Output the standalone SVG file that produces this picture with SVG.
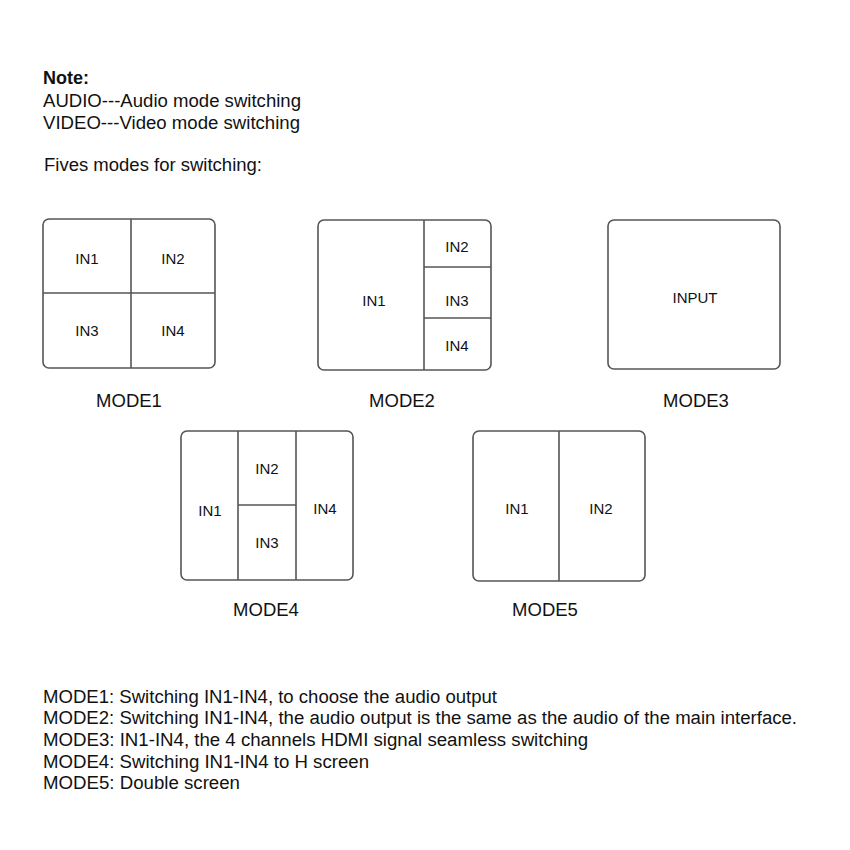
<svg xmlns="http://www.w3.org/2000/svg" width="850" height="850" viewBox="0 0 850 850">
<style>
text{font-family:"Liberation Sans",Arial,sans-serif;fill:#111;}
.t{font-size:18px;}
.b{font-weight:bold;}
.lbl{font-size:15px;text-anchor:middle;dominant-baseline:central;}
.mode{font-size:18.5px;text-anchor:middle;}
.box{fill:#fff;stroke:#555;stroke-width:1.6;}
.div{stroke:#555;stroke-width:1.6;fill:none;}
</style>
<rect width="850" height="850" fill="#fff"/>
<g id="notes">
<text class="t b" x="43" y="84">Note:</text>
<text class="t" x="43" y="107" textLength="258" lengthAdjust="spacingAndGlyphs">AUDIO---Audio mode switching</text>
<text class="t" x="43" y="129" textLength="257" lengthAdjust="spacingAndGlyphs">VIDEO---Video mode switching</text>
<text class="t" x="44" y="171" textLength="218" lengthAdjust="spacingAndGlyphs">Fives modes for switching:</text>
</g>
<g id="mode1">
<rect class="box" x="43" y="219" width="172" height="149" rx="6"/>
<path class="div" d="M131 219V368M43 293H215"/>
<text class="lbl" x="87" y="258">IN1</text>
<text class="lbl" x="173" y="258">IN2</text>
<text class="lbl" x="87" y="330">IN3</text>
<text class="lbl" x="173" y="330">IN4</text>
<text class="mode" x="129" y="407">MODE1</text>
</g>
<g id="mode2">
<rect class="box" x="318" y="220" width="173" height="150" rx="6"/>
<path class="div" d="M424 220V370M424 267H491M424 318H491"/>
<text class="lbl" x="374" y="300">IN1</text>
<text class="lbl" x="457" y="246">IN2</text>
<text class="lbl" x="457" y="300">IN3</text>
<text class="lbl" x="457" y="345">IN4</text>
<text class="mode" x="402" y="407">MODE2</text>
</g>
<g id="mode3">
<rect class="box" x="608" y="220" width="172" height="149" rx="6"/>
<text class="lbl" x="695" y="297">INPUT</text>
<text class="mode" x="696" y="407">MODE3</text>
</g>
<g id="mode4">
<rect class="box" x="181" y="431" width="172" height="149" rx="6"/>
<path class="div" d="M238 431V580M296 431V580M238 505H296"/>
<text class="lbl" x="210" y="510">IN1</text>
<text class="lbl" x="267" y="468">IN2</text>
<text class="lbl" x="267" y="542">IN3</text>
<text class="lbl" x="325" y="508">IN4</text>
<text class="mode" x="266" y="616">MODE4</text>
</g>
<g id="mode5">
<rect class="box" x="473" y="431" width="172" height="150" rx="6"/>
<path class="div" d="M559 431V581"/>
<text class="lbl" x="517" y="508">IN1</text>
<text class="lbl" x="601" y="508">IN2</text>
<text class="mode" x="545" y="616">MODE5</text>
</g>
<g id="connectors"/>
<g id="descriptions">
<text class="t" x="43" y="703" textLength="454" lengthAdjust="spacingAndGlyphs">MODE1: Switching IN1-IN4, to choose the audio output</text>
<text class="t" x="43" y="724" textLength="754" lengthAdjust="spacingAndGlyphs">MODE2: Switching IN1-IN4, the audio output is the same as the audio of the main interface.</text>
<text class="t" x="43" y="746" textLength="545" lengthAdjust="spacingAndGlyphs">MODE3: IN1-IN4, the 4 channels HDMI signal seamless switching</text>
<text class="t" x="43" y="768" textLength="326" lengthAdjust="spacingAndGlyphs">MODE4: Switching IN1-IN4 to H screen</text>
<text class="t" x="43" y="789" textLength="197" lengthAdjust="spacingAndGlyphs">MODE5: Double screen</text>
</g>
</svg>
